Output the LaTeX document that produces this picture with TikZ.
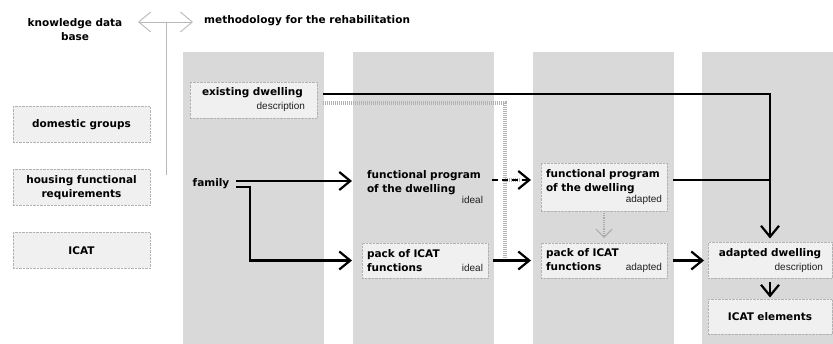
\documentclass[tikz,border=0pt]{standalone}
\usepackage{fontspec}
\setmainfont{DejaVu Sans}
\newfontfamily\notefont{Liberation Sans}
\usepackage{xcolor}
\usetikzlibrary{positioning}
\usetikzlibrary{arrows.meta}
\tikzset{>=latex}
\newcommand{\heavy}{\fontsize{10.5}{14}\selectfont\bfseries}
\newcommand{\stagenote}[1]{{\notefont\mdseries\fontsize{10}{11}\selectfont\color{gray!25!black}#1}}

\begin{document}
\begin{tikzpicture}[x=1pt, y=-1pt,
            lane/.style={rectangle, fill=gray!30, minimum width=141pt, minimum height=292pt, inner sep=0pt, anchor=north west},
            box/.style={rectangle, draw=gray!60, densely dotted, fill=gray!12, inner xsep=5pt, inner ysep=3pt, outer sep=0pt, font=\heavy, align=left},
            source/.style={box, align=center, minimum width=137pt, minimum height=36pt},
            bare/.style={inner xsep=5pt, outer sep=0pt, font=\heavy, align=left},
            heading/.style={font=\heavy, inner sep=0pt},
            flow/.style={line width=2.2pt, -{Straight Barb[length=11pt, width=18pt]}},
            link/.style={line width=2.2pt},
            hint/.style={gray!60, line width=3.5pt, dash pattern=on 0.8pt off 1.2pt},
            hintflow/.style={gray!65, line width=1.2pt, densely dotted, -{Straight Barb[length=8pt, width=16pt]}},
            divider/.style={gray!55, line width=0.9pt}
        ]
        \useasboundingbox (0,0) rectangle (833,344);
        \clip (0,0) rectangle (833,344);
        % stages
        \node[lane] (lane1) at (183,52) {};
        \node[lane] (lane2) at (353,52) {};
        \node[lane] (lane3) at (533,52) {};
        \node[lane] (lane4) at (702,52) {};
        % headings
        \node[heading, align=center] (knowledge) at (75,30) {knowledge data\\base};
        \node[heading, anchor=west] (method) at (204,21) {methodology for the rehabilitation};
        \coordinate (forkleft) at (138,22);
        \coordinate (forkright) at (193,22);
        \coordinate (fork) at (166,22);
        \coordinate (forkend) at (166,175);
        \draw[divider] (fork) -- (forkend);
        \draw[divider, {Straight Barb[length=12pt, width=20pt]}-{Straight Barb[length=12pt, width=20pt]}] (forkleft) -- (forkright);
        % knowledge data base
        \node[source] (domestic) at (81.5,124.5) {domestic groups};
        \node[source, below=27pt of domestic] (housing) {housing functional\\requirements};
        \node[source, below=27pt of housing] (icat) {ICAT};
        % methodology
        \node[box, text width=103pt, inner xsep=12pt, minimum height=36pt] (existing) at (253.5,100) {existing dwelling\\\mbox{}\hfill\stagenote{description}};
        \node[bare, inner xsep=2pt] (family) at (211,184) {family};
        \node[box, text width=116pt, minimum height=48pt] (fpadapted) at (604,187) {functional program\\of the dwelling\\[-3pt]\mbox{}\hfill\stagenote{adapted}};
        \node[box, text width=116pt, minimum height=35pt, below=32pt of fpadapted] (packadapted) {pack of ICAT\\functions\hfill\stagenote{adapted}};
        \node[box, text width=116pt, minimum height=35pt, left=53pt of packadapted] (packideal) {pack of ICAT\\functions\hfill\stagenote{ideal}};
        \node[bare, text width=116pt] (fpideal) at (fpadapted -| packideal) {functional program\\of the dwelling\\[-3pt]\mbox{}\hfill\stagenote{ideal}};
        \node[box, text width=106pt, inner xsep=9pt, minimum height=36pt, align=center, right=41pt of packadapted] (adapted) {adapted dwelling\\\mbox{}\hfill\stagenote{description}};
        \node[box, text width=106pt, inner xsep=9pt, minimum height=35pt, align=center, below=21pt of adapted] (icatel) {ICAT elements};
        % connectors
        \coordinate (fpin) at ([yshift=7pt]fpadapted.west);
        \coordinate (fpout) at ([yshift=7pt]fpadapted.east);
        \coordinate (sieve) at (505,0);
        \draw[hint, shorten <=6pt] ([yshift=-3pt]existing.east) -| (sieve |- packadapted.west) -- ([xshift=-20pt]packadapted.west);
        \draw[hint] (sieve |- fpin) -- ([xshift=-20pt]fpin);
        \draw[flow, shorten <=6pt, shorten >=4pt] ([yshift=6pt]existing.east) -| (adapted.north);
        \draw[link, shorten <=6pt] (fpout) -- (fpout -| adapted.north);
        \draw[flow, shorten <=5pt, shorten >=10pt] ([yshift=3pt]family.east) -- ([yshift=3pt]family.east -| fpideal.west);
        \draw[flow, shorten <=5pt, shorten >=10pt] ([yshift=-3pt]family.east) -- ++(19pt,0) |- (packideal.west);
        \draw[flow, dash pattern=on 6pt off 4pt, shorten <=4pt, shorten >=10pt] (fpideal.east |- fpin) -- (fpin);
        \draw[flow, shorten <=5pt, shorten >=10pt] (packideal) -- (packadapted);
        \draw[hintflow, shorten <=2pt, shorten >=5pt] (fpadapted) -- (packadapted);
        \draw[flow, shorten <=6pt, shorten >=4pt] (packadapted) -- (adapted);
        \draw[flow, shorten <=4pt, shorten >=2pt] (adapted) -- (icatel);
        \end{tikzpicture}
\end{document}
